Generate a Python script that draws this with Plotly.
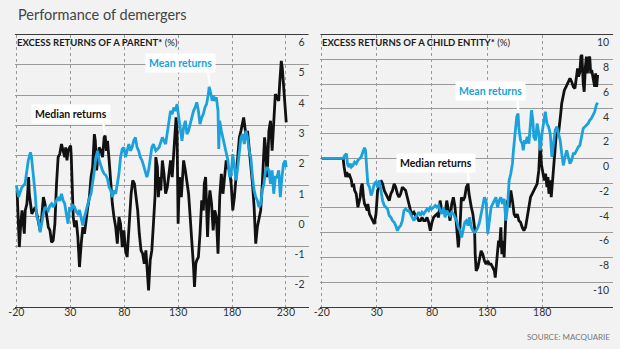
import plotly.graph_objects as go

# ---------------- data ----------------
# Left panel: excess returns of a parent (%)
LEFT_MEDIAN_DAYS = [-19.4, -18.5, -17.3, -16.0, -14.8, -13.9, -12.7, -11.8, -10.3, -9.4, -8.7, -8.1, -7.2, -5.7, -4.1, -2.6, -1.1, 0.4, 2.0, 3.5, 5.0, 6.5, 8.0, 9.6, 11.1, 12.6, 14.1, 15.7, 17.2, 18.7, 20.2, 21.8, 23.3, 24.8, 25.7, 26.9, 27.9, 29.4, 30.3, 30.9, 31.8, 32.7, 34.0, 35.5, 37.0, 38.5, 40.1, 41.6, 43.1, 44.6, 46.2, 47.7, 49.2, 50.7, 52.3, 53.2, 54.4, 55.3, 56.8, 58.4, 59.9, 61.4, 62.3, 63.5, 64.5, 66.0, 67.5, 69.0, 70.5, 72.1, 73.6, 75.1, 76.6, 78.2, 79.7, 81.2, 82.7, 83.7, 84.9, 86.4, 87.9, 89.5, 91.0, 92.5, 94.0, 95.6, 97.1, 98.6, 100.1, 101.0, 102.6, 104.1, 105.6, 107.1, 108.7,
                    109.3, 110.8, 111.7, 113.0, 113.9, 115.4, 116.9, 118.4, 120.0, 121.5, 123.0, 124.5, 126.0, 126.9, 128.1, 129.0, 130.0, 131.2, 132.1, 133.0, 134.2, 135.1, 136.7, 138.2, 139.7, 141.2, 142.7, 144.3, 145.2, 146.4, 147.3, 148.8, 150.3, 151.9, 153.4, 154.3, 155.5, 156.4, 157.3, 158.5, 159.5, 161.0, 162.5, 164.0, 165.5, 167.0, 168.6, 170.1, 171.6, 173.1, 174.6, 176.2, 177.7, 179.2, 180.7, 182.2, 183.8, 185.3, 186.8, 188.3, 189.8, 190.8, 192.0, 193.2, 194.4, 195.9, 197.4, 199.0, 200.5, 202.0, 203.5, 205.0, 206.6, 208.1, 209.0, 210.2, 211.1, 212.6, 214.2, 215.7, 217.2, 218.7, 220.2, 221.8, 223.3, 224.2, 225.7, 226.6, 227.8, 229.4, 230.3]
LEFT_MEDIAN = [0.85, -0.03, -1.02, -0.25, 0.19, -0.14, -0.58, 0.19, 0.41, 0.85, 1.29, 0.74, 0.52, 0.08, 0.19, 0.30, 0.08, -0.25, -0.47, -0.03, 0.63, 0.41, -0.03, -0.36, -0.47, -0.86, -0.80, -0.25, 1.07, 1.95, 2.05, 2.38, 2.16, 1.95, 2.27, 1.84, 2.16, 2.27, 2.33, 1.95, 1.07, -0.03, -0.36, -0.14, -0.69, -1.68, -0.91, -0.36, -0.58, -0.03, 0.30, 0.63, 1.29, 1.62, 2.71, 2.49, 1.51, 1.84, 2.27, 2.16, 1.95, 2.60, 2.66, 2.16, 2.49, 1.84, 1.07, 0.41, -0.03, -0.36, -0.91, -0.03, -0.25, -1.02, -0.47, -1.13, -1.35, -0.69, -0.03, 0.74, 1.18, 1.07, 0.63, 0.19, -0.58, -1.13, -1.24, -1.57, -1.13, -1.57, -2.45, -1.46, -1.13, -0.25, 0.74,
               1.95, 1.62, 0.63, 1.29, 0.85, 1.84, 1.40, 0.74, 0.96, 1.40, 1.84, 1.29, 2.27, 2.60, 3.26, 2.82, -0.25, 1.29, 1.07, 0.63, 1.62, 1.84, 1.51, 1.07, 0.74, -0.03, -0.69, -1.68, -2.34, -1.57, -1.46, -1.35, -0.58, 0.52, 0.19, 1.07, 1.29, 0.52, -0.69, 0.41, 0.85, 0.41, -0.47, 0.19, -0.03, -1.24, 0.63, 1.40, 0.74, 1.29, 1.84, 1.62, 1.51, 1.07, 0.19, 0.63, 1.40, 2.16, 2.60, 2.82, 3.04, 3.26, 2.93, 2.60, 2.82, 2.27, 1.73, 1.07, 0.30, -0.91, -0.36, -0.14, 0.19, 1.07, 1.84, 2.60, 2.27, 1.29, 2.82, 3.15, 2.16, 3.37, 4.03, 3.92, 3.81, 4.36, 5.13, 4.91, 4.36, 3.81, 3.10]

LEFT_MEAN_DAYS = [-20.0, -18.0, -15.0, -12.0, -9.0, -7.0, -6.0, -4.0, -2.6, -1.1, 0.4, 2.0, 3.5, 5.0, 6.5, 8.0, 9.6, 11.1, 12.6, 14.1, 15.7, 17.2, 18.7, 20.2, 21.8, 23.3, 24.8, 26.3, 27.9, 29.4, 30.9, 32.4, 34.0, 35.5, 37.0, 38.5, 40.1, 41.6, 43.1, 44.6, 46.2, 47.7, 49.2, 50.7, 52.3, 53.8, 55.3, 56.8, 58.4, 59.9, 61.4, 63.0, 64.5, 66.0, 67.5, 69.0, 70.5, 72.1, 73.6, 75.1, 76.6, 78.2, 79.7, 81.2, 82.7, 84.3, 85.8, 87.3, 88.8, 90.4, 91.9, 93.4, 94.9, 96.5, 98.0, 99.5, 101.0, 102.6, 104.1, 105.6, 107.1, 108.7,
                  109.3, 112.3, 115.4, 118.4, 120.0, 121.5, 123.0, 124.5, 126.0, 127.5, 129.0, 130.6, 132.1, 133.6, 135.1, 136.7, 138.2, 139.7, 141.2, 142.7, 144.3, 145.8, 147.3, 148.8, 150.3, 151.9, 153.4, 154.9, 156.4, 158.0, 158.8, 160.4, 161.6, 162.8, 164.0, 165.5, 167.0, 167.7, 168.6, 170.1, 171.6, 173.1, 174.6, 176.2, 177.7, 179.2, 180.7, 182.2, 183.8, 185.3, 186.8, 188.3, 189.8, 191.4, 192.9, 194.4, 195.9, 197.4, 199.0, 200.5, 202.0, 203.5, 205.0, 206.6, 208.1, 209.6, 211.1, 212.6, 214.2, 215.7, 217.2, 218.7, 220.2, 221.8, 223.3, 224.8, 226.3, 227.8, 229.4, 230.3]
LEFT_MEAN = [1.00, 0.63, 0.95, 1.07, 1.84, 2.11, 1.95, 1.29, 0.74, -0.03, -0.14, -0.53, -0.14, 0.08, 0.30, 0.25, 0.19, 0.35, 0.41, 0.30, 0.41, 0.55, 0.63, 0.50, 0.74, 0.52, 0.41, 0.08, -0.25, 0.30, 0.19, 0.35, 0.30, 0.15, 0.08, 0.20, -0.03, -0.31, -0.03, 0.19, 0.46, 0.60, 0.74, 1.07, 1.51, 1.95, 2.16, 1.84, 1.62, 1.50, 1.40, 1.35, 1.23, 0.95, 0.85, 0.63, 0.85, 0.74, 1.07, 1.40, 1.95, 2.22, 2.27, 1.95, 2.16, 2.38, 2.16, 2.27, 2.49, 2.60, 2.27, 2.16, 1.95, 1.84, 1.67, 1.51, 1.29, 1.51, 1.95, 2.27, 2.38, 2.16,
             2.16, 2.27, 2.60, 2.38, 2.82, 3.26, 3.48, 3.37, 3.59, 3.48, 3.70, 3.26, 2.82, 2.49, 2.93, 3.15, 2.71, 2.82, 3.04, 3.26, 3.48, 3.59, 3.76, 3.48, 3.04, 3.26, 3.37, 3.59, 3.70, 4.03, 4.27, 4.03, 3.81, 3.98, 3.81, 3.92, 3.48, 2.22, 3.15, 2.82, 2.60, 2.38, 2.16, 1.84, 1.29, 1.40, 2.05, 1.51, 1.18, 1.62, 2.16, 2.60, 2.71, 2.38, 2.82, 2.60, 2.16, 1.95, 1.29, 0.85, 0.63, 0.52, 0.30, 0.41, 0.85, 1.07, 1.51, 1.62, 1.51, 1.07, 1.51, 0.74, 1.29, 1.29, 1.51, 0.63, 1.29, 1.73, 1.84, 1.62]

# Right panel: excess returns of a child entity (%)
RIGHT_MEDIAN_DAYS = [-20.0, -0.6, 0.3, 0.9, 1.8, 2.7, 3.9, 4.8, 6.0, 6.9, 7.7, 8.9, 9.8, 11.3, 12.8, 13.7, 14.9, 15.8, 16.7, 17.9, 18.8, 20.3, 21.2, 21.8, 23.3, 24.8, 26.3, 27.7, 29.2, 30.7, 32.2, 33.7, 35.2, 36.7, 38.2, 39.7, 41.2, 42.7, 44.2, 45.7, 47.1, 48.6, 50.1, 51.6, 53.1, 54.6, 56.1, 57.6, 59.1, 60.6, 62.1, 63.6, 65.1, 66.6, 68.0, 69.5, 71.0, 72.5, 74.0, 75.5, 77.0, 78.5, 80.0, 81.5, 83.0, 84.5, 86.0, 87.4, 88.9, 90.4, 91.9, 93.4, 94.9, 96.4, 97.9, 99.4, 100.9, 102.4, 103.9, 105.4,
                     106.7, 108.2, 109.7, 111.2, 112.7, 113.6, 114.8, 115.7, 117.1, 118.6, 119.2, 120.1, 121.6, 123.1, 124.6, 126.1, 127.6, 129.1, 130.6, 132.1, 133.6, 135.1, 136.6, 137.4, 138.6, 139.5, 140.4, 141.3, 142.5, 143.4, 144.3, 145.5, 146.4, 147.3, 148.5, 150.0, 150.9, 151.5, 153.0, 154.5, 156.0, 157.4, 158.9, 160.4, 161.9, 163.4, 164.9, 166.4, 167.9, 169.4, 170.9, 172.4, 173.9, 175.4, 176.9, 177.7, 178.3, 179.2, 180.1, 181.3, 182.2, 183.1, 184.3, 185.2, 186.1, 187.3, 188.2, 189.1, 190.3, 191.2, 192.1, 193.3, 194.8, 195.7, 196.8, 197.7, 199.2, 200.1, 201.6, 202.8, 204.0, 205.2, 206.7, 208.2, 209.7, 211.2, 212.1, 213.0, 214.2, 215.1, 216.0, 217.2, 218.1, 219.2, 220.1, 221.0, 221.9, 223.1, 224.0, 224.9, 226.1, 227.6, 228.5, 229.4, 230.3]
RIGHT_MEDIAN = [0.0, 0.0, -0.70, -0.97, -1.51, -1.11, -1.51, -1.24, -1.51, -1.78, -2.32, -2.05, -2.59, -2.86, -3.95, -3.68, -3.14, -2.32, -2.05, -3.14, -3.68, -3.95, -4.22, -3.68, -4.49, -4.76, -5.03, -5.30, -4.49, -2.59, -2.32, -1.78, -2.05, -2.59, -2.86, -3.14, -3.41, -2.86, -2.59, -2.05, -2.32, -2.86, -3.14, -2.86, -2.32, -2.46, -2.59, -3.14, -3.81, -4.22, -4.49, -4.35, -4.62, -4.76, -5.03, -5.03, -4.76, -5.03, -5.03, -4.76, -5.16, -5.84, -5.16, -4.76, -4.62, -4.49, -4.76, -3.41, -4.22, -3.95, -4.49, -3.41, -4.22, -5.03, -3.68, -3.14, -3.95, -5.30, -7.19, -5.57,
                -3.14, -3.41, -3.14, -2.32, -2.05, -2.86, -3.68, -3.95, -4.49, -5.57, -7.73, -9.08, -8.81, -8.00, -7.46, -7.73, -8.27, -8.54, -8.27, -8.54, -8.54, -8.81, -9.08, -9.62, -8.27, -7.73, -6.65, -7.19, -5.57, -7.73, -6.65, -8.00, -5.57, -3.95, -3.41, -3.95, -3.14, -2.59, -3.41, -4.49, -4.76, -4.49, -5.03, -5.16, -5.57, -5.84, -5.57, -4.76, -4.22, -3.14, -2.86, -2.59, -2.32, -2.05, -0.97, 0.65, 1.46, -0.43, -0.97, -1.51, -1.78, -1.24, -2.32, -1.51, -2.86, -1.78, -3.14, -2.05, -0.70, 0.38, 1.46, 2.54, 2.00, 3.08, 3.62, 4.43, 5.24, 5.51, 5.78, 6.05, 6.32, 6.46, 6.19, 5.78, 5.65, 6.86, 7.27, 6.59, 7.00, 8.22, 8.35, 6.05, 5.38, 7.41, 8.22, 6.86, 7.95, 8.22, 6.86, 7.14, 6.59, 5.78, 6.86, 5.78, 6.73]

RIGHT_MEAN_DAYS = [-20.0, -0.6, 0.9, 2.4, 3.3, 4.5, 6.0, 6.9, 8.3, 9.8, 11.3, 12.8, 14.3, 15.8, 17.3, 18.8, 19.7, 20.9, 21.8, 23.3, 24.8, 26.3, 27.7, 29.2, 30.7, 32.2, 33.7, 35.2, 36.7, 38.2, 39.7, 41.2, 42.7, 44.2, 45.7, 47.1, 48.6, 50.1, 51.6, 53.1, 54.6, 56.1, 57.6, 59.1, 60.6, 62.1, 63.6, 65.1, 66.6, 68.0, 69.5, 71.0, 72.5, 74.0, 75.5, 77.0, 78.5, 80.0, 81.5, 83.0, 84.5, 86.0, 87.4, 88.9, 90.4, 91.9, 93.4, 94.9, 96.4, 97.9, 99.4, 100.9, 102.4, 103.9, 105.4, 106.9, 108.3, 109.8, 111.3,
                   112.7, 114.2, 115.7, 117.1, 118.6, 120.1, 121.6, 123.1, 124.6, 126.1, 127.6, 129.1, 130.6, 132.1, 133.6, 135.1, 136.6, 138.0, 139.5, 141.0, 142.5, 144.0, 145.5, 147.0, 148.5, 150.0, 151.5, 153.0, 153.9, 155.1, 156.0, 156.9, 158.1, 159.0, 160.4, 161.9, 162.8, 164.0, 164.9, 166.4, 167.9, 169.4, 170.3, 171.5, 172.4, 173.9, 175.4, 176.9, 178.3, 179.8, 181.3, 182.8, 184.3, 185.8, 187.3, 188.8, 190.3, 191.8, 193.3, 194.8, 196.3, 197.7, 199.2, 200.7, 202.2, 203.7, 205.2, 206.7, 208.2, 209.7, 211.2, 212.7, 214.2, 215.7, 217.2, 218.6, 220.1, 221.6, 223.1, 224.6, 226.1, 227.6, 229.1, 230.3]
RIGHT_MEAN = [0.0, 0.0, 0.24, 0.38, -0.43, -0.70, -0.43, -0.70, -0.57, -0.30, -0.43, -0.16, -0.03, 0.11, 0.51, 0.86, 0.65, -1.24, -2.05, -2.32, -3.00, -2.59, -2.05, -1.92, -2.32, -1.78, -2.59, -3.41, -3.81, -3.95, -4.08, -4.62, -4.76, -5.03, -5.16, -5.43, -5.84, -5.57, -5.43, -5.03, -4.22, -4.08, -4.22, -4.22, -4.49, -4.76, -5.03, -4.76, -4.49, -4.35, -4.62, -4.35, -4.49, -4.22, -4.08, -4.22, -3.95, -4.08, -3.95, -3.81, -3.95, -3.81, -4.22, -4.49, -3.95, -4.76, -4.22, -4.49, -4.62, -4.35, -4.49, -4.76, -5.03, -5.57, -5.84, -6.38, -5.84, -5.16, -5.03,
              -5.43, -4.76, -5.57, -5.84, -5.97, -5.84, -5.57, -5.16, -4.49, -3.95, -3.14, -3.41, -6.11, -5.03, -3.95, -3.68, -3.41, -3.14, -3.95, -3.41, -3.14, -3.68, -3.27, -5.03, -3.95, -1.78, -1.24, -0.43, 0.65, 1.73, 2.81, 3.35, 3.62, 2.27, 1.46, 1.19, 0.65, 1.46, 1.19, 1.73, 1.19, 2.54, 3.89, 3.08, 1.73, 1.46, 2.81, 2.00, 0.65, 2.00, 3.08, 3.76, 2.81, 2.54, 2.00, 0.11, 1.19, 2.27, 2.54, 2.00, 1.46, 0.38, -0.57, 0.11, 0.65, 0.11, -0.43, -0.16, 0.38, 0.38, 0.65, 0.92, 1.05, 1.73, 2.41, 2.54, 2.68, 2.81, 3.08, 3.22, 3.49, 3.76, 4.30, 4.49]

X_TICKS = [-20, 30, 80, 130, 180, 230]
X_TICK_TEXT = ["-20", "30", "80", "130", "180", "230"]
LEFT_Y_TICKS = [-2, -1, 0, 1, 2, 3, 4, 5, 6]
LEFT_Y_TEXT = ["-2", "-1", "0", "1", "2", "3", "4", "5", "6"]
RIGHT_Y_TICKS = [-10, -8, -6, -4, -2, 0, 2, 4, 6, 8, 10]
RIGHT_Y_TEXT = ["-10", "-8", "-6", "-4", "-2", "0", "2", "4", "6", "8", "10"]

# ---------------- styling ----------------
W, H = 620, 349
FONT = "Lato"
BLUE = "#1ba1dc"
BLACK = "#111111"
GRID = "#9a9a9a"
BG = "#f2f2f2"

fig = go.Figure()
fig.add_trace(go.Scatter(x=LEFT_MEDIAN_DAYS, y=LEFT_MEDIAN, mode="lines",
                         line=dict(color=BLACK, width=2.8), xaxis="x", yaxis="y"))
fig.add_trace(go.Scatter(x=LEFT_MEAN_DAYS, y=LEFT_MEAN, mode="lines",
                         line=dict(color=BLUE, width=2.8), xaxis="x", yaxis="y"))
fig.add_trace(go.Scatter(x=RIGHT_MEDIAN_DAYS, y=RIGHT_MEDIAN, mode="lines",
                         line=dict(color=BLACK, width=2.8), xaxis="x2", yaxis="y2"))
fig.add_trace(go.Scatter(x=RIGHT_MEAN_DAYS, y=RIGHT_MEAN, mode="lines",
                         line=dict(color=BLUE, width=2.8), xaxis="x2", yaxis="y2"))

ydom = [1 - 307 / H, 1 - 34.5 / H]

xcommon = dict(tickvals=X_TICKS, ticktext=X_TICK_TEXT, showgrid=True, gridcolor=GRID,
               griddash="dot", gridwidth=1, showline=True, linecolor="#3a3a3a",
               linewidth=1.2, ticks="", zeroline=False, ticklabelstandoff=-5,
               tickfont=dict(family=FONT, size=10.5, color="#333"))
ycommon = dict(side="right", ticklabelposition="inside", ticks="", showgrid=True,
               gridcolor=GRID, gridwidth=1, zeroline=False, showline=False,
               ticklabelshift=8, ticklabelstandoff=1,
               tickfont=dict(family=FONT, size=10.5, color="#333"), domain=ydom)

fig.update_layout(
    width=W, height=H, margin=dict(l=0, r=0, t=0, b=0),
    paper_bgcolor=BG, plot_bgcolor=BG, showlegend=False,
    font=dict(family=FONT),
    xaxis=dict(domain=[8 / W, 305 / W], range=[-21.4, 251], anchor="y", **xcommon),
    yaxis=dict(range=[-3, 6], anchor="x", tickvals=LEFT_Y_TICKS, ticktext=LEFT_Y_TEXT, **ycommon),
    xaxis2=dict(domain=[317 / W, 613 / W], range=[-21.2, 244.3], anchor="y2", **xcommon),
    yaxis2=dict(range=[-12, 10], anchor="x2", tickvals=RIGHT_Y_TICKS, ticktext=RIGHT_Y_TEXT, **ycommon),
)

def px2paper(px, py):
    return px / W, 1 - py / H

ann = []
x0, y0 = px2paper(9, 14)
ann.append(dict(x=x0, y=y0, xref="paper", yref="paper", xanchor="left", yanchor="middle",
                text="Performance of demergers", showarrow=False,
                font=dict(family=FONT, size=14.5, color="#444")))
x0, y0 = px2paper(8, 43)
ann.append(dict(x=x0, y=y0, xref="paper", yref="paper", xanchor="left", yanchor="middle",
                text="<b>EXCESS RETURNS OF A PARENT*</b> (%)", showarrow=False,
                font=dict(family=FONT, size=9.5, color="#1a1a1a")))
x0, y0 = px2paper(317, 43)
ann.append(dict(x=x0, y=y0, xref="paper", yref="paper", xanchor="left", yanchor="middle",
                text="<b>EXCESS RETURNS OF A CHILD ENTITY*</b> (%)", showarrow=False,
                font=dict(family=FONT, size=9.5, color="#1a1a1a")))
x0, y0 = px2paper(612, 337)
ann.append(dict(x=x0, y=y0, xref="paper", yref="paper", xanchor="right", yanchor="middle",
                text="SOURCE: MACQUARIE", showarrow=False,
                font=dict(family=FONT, size=8, color="#777")))

shapes = []
# dark top rules over each panel
for xr, yr in (("x", "y"), ("x2", "y2")):
    shapes.append(dict(type="line", xref=xr + " domain", yref=yr + " domain",
                       x0=0, x1=1, y0=1, y1=1, line=dict(color="#3a3a3a", width=1.2)))

# callout labels (data coordinates) and pointer lines
callouts = [
    # text, x, y, color, xref, yref, pointer (x0,y0,x1,y1)
    ("Mean returns", 131.8, 5.07, BLUE, "x", "y", (157.5, 4.87, 159.4, 4.35)),
    ("Median returns", 30.9, 3.39, BLACK, "x", "y", (60.3, 3.16, 62.1, 2.73)),
    ("Mean returns", 133.5, 5.45, BLUE, "x2", "y2", (157.3, 4.96, 158.2, 3.91)),
    ("Median returns", 83.3, -0.38, BLACK, "x2", "y2", (112.5, -0.95, 113.4, -1.92)),
]
for text, x, y, col, xr, yr, (a, b, c, d) in callouts:
    shapes.append(dict(type="line", xref=xr, yref=yr, x0=a, y0=b, x1=c, y1=d,
                       line=dict(color="#ffffff", width=2.5)))
    ann.append(dict(x=x, y=y, xref=xr, yref=yr, text="<b>%s</b>" % text, showarrow=False,
                    bgcolor="#ffffff", borderpad=3,
                    font=dict(family=FONT, size=10.5, color=col)))

fig.update_layout(annotations=ann, shapes=shapes)
fig.write_html("out.html")
